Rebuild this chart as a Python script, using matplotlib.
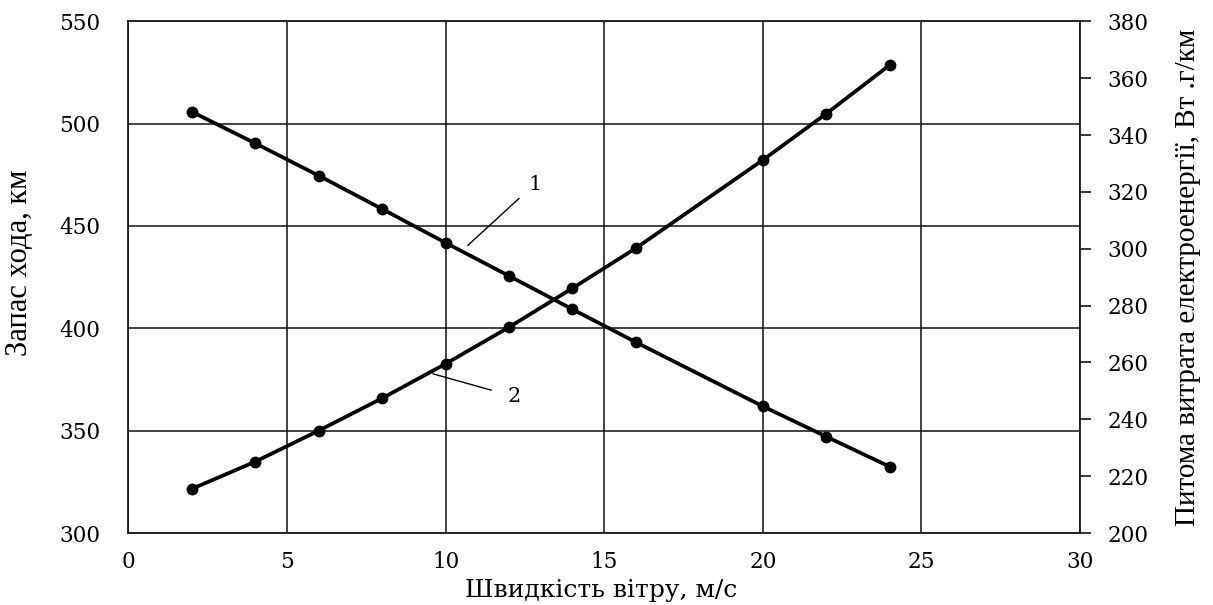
import matplotlib
matplotlib.use("Agg")
import matplotlib.pyplot as plt

# Wind speed, m/s
wind_speed = [2, 4, 6, 8, 10, 12, 14, 16, 20, 22, 24]
# Curve 1: driving range, km (left axis)
driving_range = [505.8, 490.4, 474.6, 458.3, 441.8, 425.6, 409.3, 393.2, 361.9, 347.1, 332.4]
# Curve 2: specific energy consumption, W·h/km (right axis)
energy_use = [215.5, 225.1, 236.0, 247.4, 259.5, 272.4, 286.1, 300.2, 331.2, 347.5, 364.6]

x_ticks = [0, 5, 10, 15, 20, 25, 30]
left_ticks = [300, 350, 400, 450, 500, 550]
right_ticks = [200, 220, 240, 260, 280, 300, 320, 340, 360, 380]

wide_serif = ['DejaVu Serif']
narrow_serif = ['Liberation Serif', 'DejaVu Serif']
plt.rcParams['font.family'] = wide_serif

fig = plt.figure(figsize=(12.13, 6.05), dpi=100)
ax = fig.add_axes([0.1058, 0.119, 0.7846, 0.8458])
ax2 = ax.twinx()

ax.set_xlim(0, 30)
ax.set_ylim(300, 550)
ax2.set_ylim(200, 380)

ax.set_xticks(x_ticks)
ax.set_yticks(left_ticks)
ax2.set_yticks(right_ticks)

ax.grid(True, color='#111111', linewidth=1.1)
ax.set_axisbelow(True)

ax.plot(wind_speed, driving_range, color='black', linewidth=2.7,
        marker='o', markersize=7.5, zorder=3)
ax2.plot(wind_speed, energy_use, color='black', linewidth=2.7,
         marker='o', markersize=7.5, zorder=3)

for a in (ax, ax2):
    for s in a.spines.values():
        s.set_color('#222222')
        s.set_linewidth(1.1)

ax.tick_params(axis='x', length=0, labelsize=15.5, pad=13)
ax.tick_params(axis='y', length=0, labelsize=15.5, pad=20)
ax2.tick_params(axis='y', length=8, width=1.1, direction='out',
                labelsize=15.5, pad=12)

ax.set_xlabel('Швидкість вітру, м/с', fontsize=18, va='center')
ax.xaxis.set_label_coords(0.4965, -0.112)

ax.set_ylabel('Запас хода, км', fontsize=22, family=narrow_serif, va='center')
ax.yaxis.set_label_coords(-0.114, 0.528)

ax2.set_ylabel('Питома витрата електроенергії, Вт .г/км', fontsize=21,
               family=narrow_serif, va='center', rotation=90)
ax2.yaxis.set_label_coords(1.1135, 0.5)

# curve labels with leader lines
ax.annotate('1', xy=(10.7, 440.5), xytext=(12.6, 470.5),
            fontsize=15, ha='left', va='center',
            arrowprops=dict(arrowstyle='-', color='black', linewidth=1.0,
                            shrinkA=6, shrinkB=0))
ax2.annotate('2', xy=(9.6, 256.0), xytext=(11.95, 248.0),
             fontsize=15, ha='left', va='center',
             arrowprops=dict(arrowstyle='-', color='black', linewidth=1.0,
                             shrinkA=10, shrinkB=0))

fig.savefig('out.png', dpi=100, facecolor='white')
